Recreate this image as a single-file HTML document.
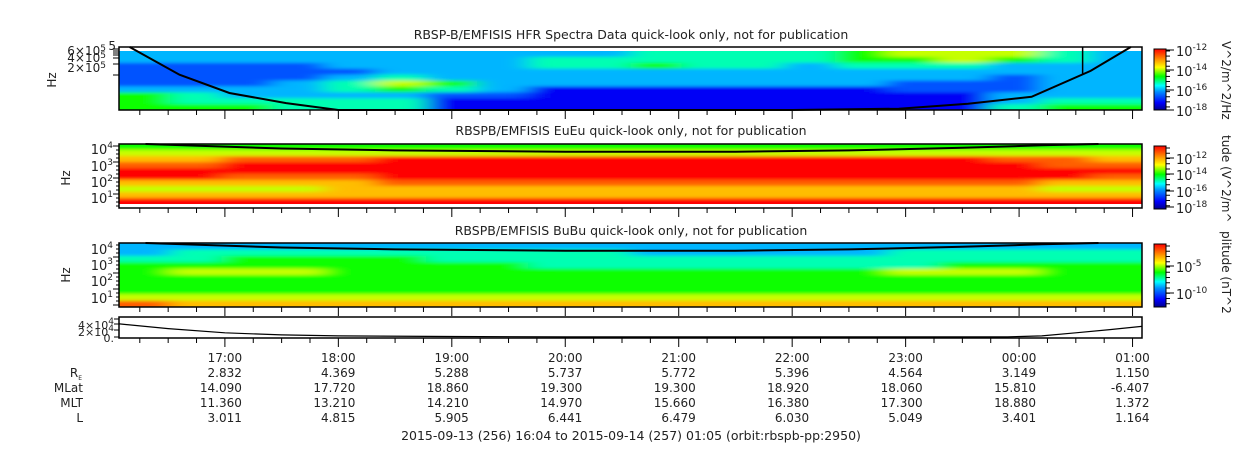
<!DOCTYPE html>
<html><head><meta charset="utf-8"><style>
body{margin:0;background:#fff;}
svg text{font-family:"DejaVu Sans","Liberation Sans",sans-serif;fill:#222;}
</style></head><body>
<svg id="chart" width="1250" height="449" xmlns="http://www.w3.org/2000/svg">
<defs>
<filter id="blur" x="-5%" y="-20%" width="110%" height="140%"><feGaussianBlur stdDeviation="12 1.5"/></filter>
<linearGradient id="jetv" x1="0" y1="1" x2="0" y2="0">
<stop offset="0" stop-color="#00008c"/><stop offset="0.12" stop-color="#0000ff"/><stop offset="0.3" stop-color="#0090ff"/><stop offset="0.4" stop-color="#00ffff"/><stop offset="0.55" stop-color="#00ff00"/><stop offset="0.7" stop-color="#ffff00"/><stop offset="0.85" stop-color="#ff8000"/><stop offset="1" stop-color="#ff0000"/>
</linearGradient>
</defs>
<g id="plots"></g>
</svg>
<script>
const hours=[17,18,19,20,21,22,23,24,25];
const hourLabels=["17:00","18:00","19:00","20:00","21:00","22:00","23:00","00:00","01:00"];
const reVals=["2.832","4.369","5.288","5.737","5.772","5.396","4.564","3.149","1.150"];
const mlatVals=["14.090","17.720","18.860","19.300","19.300","18.920","18.060","15.810","-6.407"];
const mltVals=["11.360","13.210","14.210","14.970","15.660","16.380","17.300","18.880","1.372"];
const lVals=["3.011","4.815","5.905","6.441","6.479","6.030","5.049","3.401","1.164"];
const hfrGrid=["33333333334444566643","33333333444444556543","22223333445443444333","22222333333333333333","22223433333333333233","22234653333333322233","33334543111111122233","54333322111111111333","54444411111111111344","55544411111111111455"];
const euGrid=["55555555555555555555","66666666666666666666","77888999999999999887","88999999999999999988","99999999999999999999","99888999999999999998","77777888888888888877","66667777777777777766","77777777777777777777","99999999999999999999"];
const buGrid=["33333333333333333333","34444444443333344444","44555544444444444444","55555555444444445555","56665555555555566655","55555555555555555555","55555555555555555555","55555555555555555555","66666666666666666666","87777777777777777777"];
const hfrCurveH=[16.16,16.6,17.04,17.54,18.0,19,20,21,22,22.94,23.55,24.11,24.63,24.985];
const hfrCurveF=[0,0.44,0.73,0.89,1,1,1,1,1,0.98,0.90,0.79,0.38,0];
const topCurveH=[16.3,16.8,17.5,18.5,20,21.5,22.5,23.5,24.2,24.7];
const topCurveF=[0,0.03,0.07,0.1,0.12,0.12,0.1,0.06,0.02,0];
const orbitH=[16.07,16.5,17,17.5,18,19,20,21,22,23,23.9,24.2,24.5,24.8,25.08];
const orbitF=[0.33,0.55,0.75,0.85,0.9,0.93,0.95,0.95,0.95,0.95,0.95,0.9,0.75,0.6,0.45];

const X0=119,X1=1142,T0=16+4/60,T1=25+5/60;
const xOf=h=>X0+(h-T0)/(T1-T0)*(X1-X0);
const NS="http://www.w3.org/2000/svg";
const root=document.getElementById('plots');
function mk(tag,attrs,parent){const e=document.createElementNS(NS,tag);for(const k in attrs)e.setAttribute(k,attrs[k]);(parent||root).appendChild(e);return e;}
const cmap=[[0,[0,0,140]],[0.12,[0,0,255]],[0.3,[0,144,255]],[0.4,[0,255,255]],[0.55,[0,255,0]],[0.7,[255,255,0]],[0.85,[255,128,0]],[1,[255,0,0]]];
function jet(v){for(let i=1;i<cmap.length;i++){if(v<=cmap[i][0]){const a=cmap[i-1],b=cmap[i],t=(v-a[0])/(b[0]-a[0]);
 return 'rgb('+a[1].map((c,k)=>Math.round(c+(b[1][k]-c)*t)).join(',')+')';}}return 'rgb(255,0,0)';}
function spectro(name,grid,y0,y1,id){
 const cp=mk('clipPath',{id:'cp'+id},document.querySelector('defs'));
 mk('rect',{x:X0,y:y0,width:X1-X0,height:y1-y0},cp);
 const outer=mk('g',{'clip-path':`url(#cp${id})`});
 
 
 const g=mk('g',{filter:'url(#blur)'},outer);
 const rows=grid.length,cols=grid[0].length,rh=(y1-y0)/rows;
 for(let r=0;r<rows;r++)for(let c=0;c<cols;c++){
  const xa=xOf(T0+(c/cols)*(T1-T0))-(c==0?30:0),xb=xOf(T0+((c+1)/cols)*(T1-T0))+(c==cols-1?30:0);
  const cell=mk('rect',{x:xa,y:y0+r*rh-(r==0?4:0),width:xb-xa+0.5,height:rh+0.5+(r==0||r==rows-1?4:0),fill:jet(+grid[r][c]/9)},g);
  
  
 }
}
function curve(name,H,F,y0,y1,w){
 const d=H.map((h,i)=>(i?'L':'M')+xOf(h).toFixed(1)+','+(y0+F[i]*(y1-y0)).toFixed(1)).join('');
 const p=mk('path',{d:d,fill:'none',stroke:'#000','stroke-width':w});
 
 
}
function frame(name,y0,y1){
 const f=mk('rect',{x:X0,y:y0,width:X1-X0,height:y1-y0,fill:'none',stroke:'#000','stroke-width':1.5});
 
 
 for(let h=16.25;h<=25.08;h+=0.25){const x=xOf(h);const major=Math.abs(h-Math.round(h))<0.01;
  const t=mk('line',{x1:x,x2:x,y1:y1,y2:y1+(major?9:5),stroke:'#000','stroke-width':1});
  
  }
}
function txt(s,x,y,anchor,size,name,extra){const t=mk('text',Object.assign({x:x,y:y,'text-anchor':anchor||'start','font-size':size||12},extra||{}));t.innerHTML=s;return t;}

const P1=[47,110],P2=[144,208],P3=[243,307],P4=[317,338];
spectro('hfr-spectrogram',hfrGrid,P1[0]+4,P1[1],1);
spectro('eueu-spectrogram',euGrid,P2[0],P2[1]-4,2);
spectro('bubu-spectrogram',buGrid,P3[0],P3[1],3);
curve('hfr-plasma-curve',hfrCurveH,hfrCurveF,P1[0],P1[1],2);
curve('eueu-cyclotron-curve',topCurveH,topCurveF,P2[0],P2[1],2);
curve('bubu-cyclotron-curve',topCurveH,topCurveF,P3[0],P3[1],2);
mk('line',{x1:xOf(24.56),x2:xOf(24.56),y1:P1[0],y2:P1[0]+28,stroke:'#000','stroke-width':1.5});
curve('orbit-line',orbitH,orbitF,P4[0],P4[1],1.2);
frame('hfr-frame',...P1);frame('eueu-frame',...P2);frame('bubu-frame',...P3);frame('orbit-frame',...P4);

txt('RBSP-B/EMFISIS  HFR Spectra Data quick-look only, not for publication',631,39,'middle',12.5,'hfr-title',{'xml:space':'preserve'});
txt('RBSPB/EMFISIS  EuEu quick-look only, not for publication',631,135,'middle',12.5,'eueu-title',{'xml:space':'preserve'});
txt('RBSPB/EMFISIS  BuBu quick-look only, not for publication',631,235,'middle',12.5,'bubu-title',{'xml:space':'preserve'});

function ytick(x,y,len){mk('line',{x1:x-len,x2:x,y1:y,y2:y,stroke:'#000','stroke-width':1});}
txt('5',116,50,'end',12,'hfr-y-tick-label');
[[55,'6×10<tspan font-size="9" dy="-4">5</tspan>'],[62,'4×10<tspan font-size="9" dy="-4">5</tspan>'],[72,'2×10<tspan font-size="9" dy="-4">5</tspan>']].forEach(([y,s])=>{txt(s,106,y,'end',12,'hfr-y-tick-label');});
[49,51,53,55,58,64,75].forEach(y=>ytick(X0,y,6));
txt('Hz',56,80,'middle',12,'hfr-y-axis-title',{transform:'rotate(-90 56 80)'});
[[149,'4'],[166,'3'],[182,'2'],[198,'1']].forEach(([y,e])=>txt('10<tspan font-size="9" dy="-6">'+e+'</tspan>',113,y+5,'end',13,'eueu-y-tick-label'));
[[249,'4'],[265,'3'],[281,'2'],[298,'1']].forEach(([y,e])=>txt('10<tspan font-size="9" dy="-6">'+e+'</tspan>',113,y+5,'end',13,'bubu-y-tick-label'));
for(let y=146;y<208;y+=4)ytick(X0,y,(y%16<4)?6:3);
for(let y=245;y<307;y+=4)ytick(X0,y,(y%16<4)?6:3);
txt('Hz',70,178,'middle',12,'eueu-y-axis-title',{transform:'rotate(-90 70 178)'});
txt('Hz',70,275,'middle',12,'bubu-y-axis-title',{transform:'rotate(-90 70 275)'});
txt('4×10<tspan font-size="9" dy="-5">4</tspan>',114,329,'end',11,'orbit-y-tick-label');
txt('2×10<tspan font-size="9" dy="-5">4</tspan>',114,336,'end',11,'orbit-y-tick-label');
txt('0.',114,342,'end',11,'orbit-y-tick-label');
[319,324,330,337].forEach(y=>ytick(X0,y,5));

function cbar(name,y0,y1,labels,title,ty){
 const r=mk('rect',{x:1154,y:y0,width:12,height:y1-y0,fill:'url(#jetv)',stroke:'#000','stroke-width':1});
 
 
 for(let y=y0+2;y<y1;y+=(y1-y0)/12)mk('line',{x1:1166,x2:1170,y1:y,y2:y,stroke:'#000'});
 labels.forEach(([y,e])=>{mk('line',{x1:1166,x2:1174,y1:y,y2:y,stroke:'#000'});txt('10<tspan font-size="9" dy="-6">'+e+'</tspan>',1176,y+6,'start',13,name+'-label');});
 txt(title,1222,ty,'start',12,name+'-title',{transform:`rotate(90 1222 ${ty})`});
}
cbar('hfr-colorbar',49,110,[[50,'-12'],[70,'-14'],[90,'-16'],[110,'-18']],'V^2/m^2/Hz',41);
cbar('eueu-colorbar',146,209,[[158,'-12'],[174,'-14'],[191,'-16'],[207,'-18']],'tude (V^2/m^',135);
cbar('bubu-colorbar',244,307,[[266,'-5'],[293,'-10']],'plitude (nT^2',231);

hours.forEach((h,i)=>{const x=xOf(h);
 txt(hourLabels[i],x,362,'middle',12,'x-tick-label');
 txt(reVals[i],x+17,377,'end',12,'re-value');
 txt(mlatVals[i],x+17,392,'end',12,'mlat-value');
 txt(mltVals[i],x+17,407,'end',12,'mlt-value');
 txt(lVals[i],x+17,422,'end',12,'l-value');});
txt('R<tspan font-size="6" dy="3">E</tspan>',82,377,'end',12,'re-row-label');
txt('MLat',83,392,'end',12,'mlat-row-label');
txt('MLT',83,407,'end',12,'mlt-row-label');
txt('L',83,422,'end',12,'l-row-label');
txt('2015-09-13 (256) 16:04 to 2015-09-14 (257) 01:05 (orbit:rbspb-pp:2950)',631,440,'middle',12.5,'time-range-caption');
</script>
</body></html>
